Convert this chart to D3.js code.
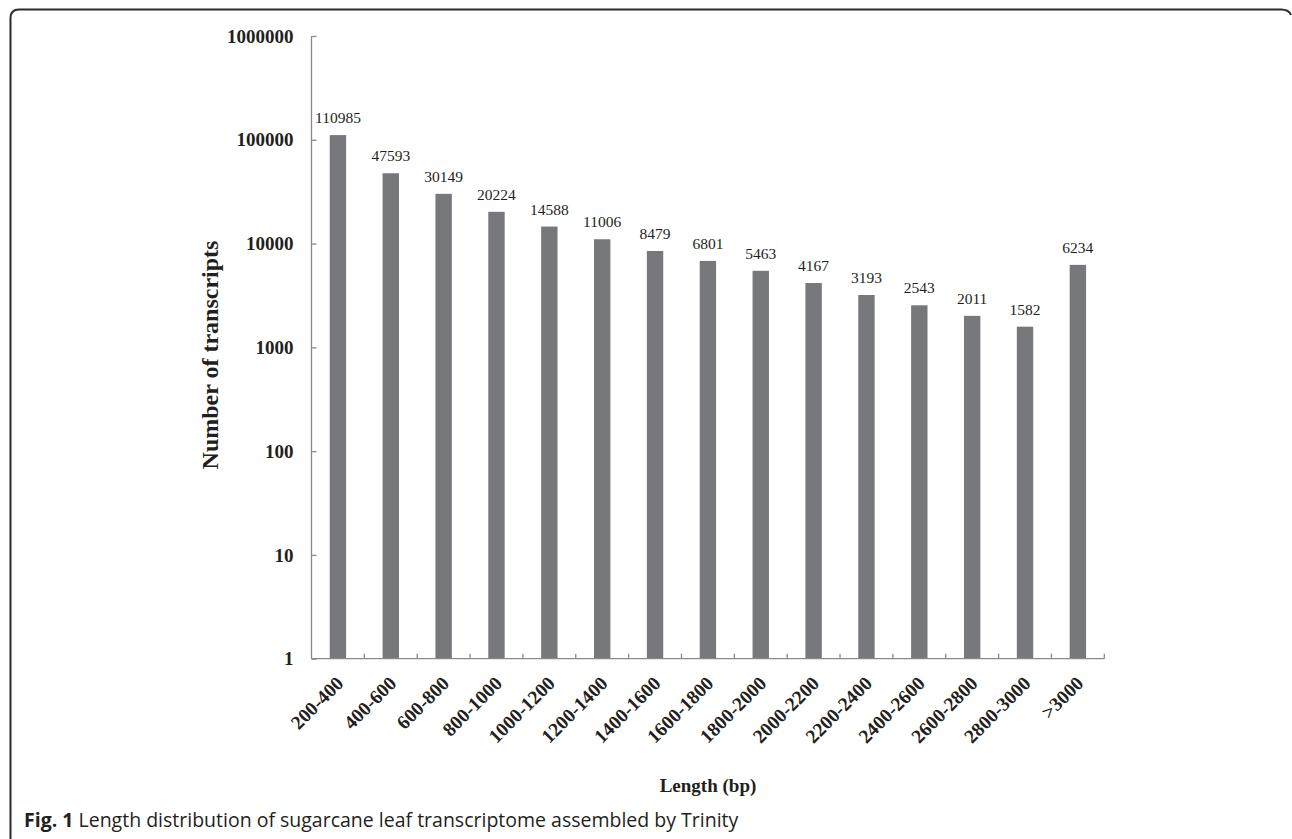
<!DOCTYPE html>
<html>
<head>
<meta charset="utf-8">
<script src="https://cdn.jsdelivr.net/npm/d3@7"></script>
<style>
  html, body { margin: 0; padding: 0; background: #fff; }
  svg { display: block; }
</style>
</head>
<body>
<svg id="chart" width="1292" height="839"></svg>
<script>
// Transcript length bins and counts
const categories = ["200-400", "400-600", "600-800", "800-1000", "1000-1200", "1200-1400",
  "1400-1600", "1600-1800", "1800-2000", "2000-2200", "2200-2400", "2400-2600",
  "2600-2800", "2800-3000", ">3000"];
const counts = [110985, 47593, 30149, 20224, 14588, 11006, 8479, 6801, 5463, 4167,
  3193, 2543, 2011, 1582, 6234];
const yTicks = [1, 10, 100, 1000, 10000, 100000, 1000000];

const svg = d3.select("#chart");
const serif = "'Liberation Serif', 'Times New Roman', serif";
const ink = "#231f20";
const axisGrey = "#8a8a8a";

const plot = { left: 311.5, right: 1104.3, top: 36, bottom: 658.7 };

const x = d3.scaleBand()
  .domain(categories)
  .range([plot.left, plot.right])
  .paddingInner(0.69)
  .paddingOuter(0.345);

const y = d3.scaleLog()
  .domain([1, 1000000])
  .range([plot.bottom, plot.top]);

// Figure frame (left and top edges with rounded corners)
svg.append("path")
  .attr("d", "M10.5,839 L10.5,18 Q10.5,9.5 19,9.5 L1281,9.5 Q1289,9.5 1291,15")
  .attr("fill", "none")
  .attr("stroke", "#2b2b2b")
  .attr("stroke-width", 2);

// Bars
svg.append("g").selectAll("rect")
  .data(categories)
  .join("rect")
  .attr("x", d => x(d))
  .attr("width", x.bandwidth())
  .attr("y", (d, i) => y(counts[i]))
  .attr("height", (d, i) => plot.bottom - y(counts[i]))
  .attr("fill", "#77787b");

// Value labels above bars
svg.append("g").selectAll("text")
  .data(categories)
  .join("text")
  .attr("x", d => x(d) + x.bandwidth() / 2)
  .attr("y", (d, i) => y(counts[i]) - 12)
  .attr("text-anchor", "middle")
  .attr("font-family", serif)
  .attr("font-size", "15.5px")
  .attr("fill", ink)
  .text((d, i) => counts[i]);

// Y axis
const yAxis = svg.append("g")
  .attr("transform", `translate(${plot.left},0)`)
  .call(d3.axisLeft(y).tickValues(yTicks).tickFormat(d3.format("d"))
    .tickSize(-5).tickPadding(18));
yAxis.select(".domain").attr("stroke", axisGrey).attr("stroke-width", 1.3)
  .attr("d", `M0,${plot.top}V${plot.bottom}`);
yAxis.selectAll(".tick line").attr("stroke", axisGrey).attr("stroke-width", 1.3);
yAxis.selectAll(".tick text")
  .attr("font-family", serif)
  .attr("font-size", "19px")
  .attr("font-weight", "bold")
  .attr("fill", ink);

// X axis baseline and category separators
const xAxis = svg.append("g");
xAxis.append("line")
  .attr("x1", plot.left).attr("x2", plot.right)
  .attr("y1", plot.bottom).attr("y2", plot.bottom)
  .attr("stroke", axisGrey).attr("stroke-width", 1.3);
const step = x.step();
const slotStart = d => x(d) - (step - x.bandwidth()) / 2;
xAxis.selectAll("line.sep")
  .data(categories)
  .join("line")
  .attr("class", "sep")
  .attr("x1", d => slotStart(d) + step)
  .attr("x2", d => slotStart(d) + step)
  .attr("y1", plot.bottom)
  .attr("y2", plot.bottom - 5)
  .attr("stroke", axisGrey).attr("stroke-width", 1.3);

// Rotated category labels
xAxis.selectAll("text")
  .data(categories)
  .join("text")
  .attr("transform", d => `translate(${x(d) + x.bandwidth() / 2 + 2},${plot.bottom + 21}) rotate(-45)`)
  .attr("text-anchor", "end")
  .attr("dy", "0.35em")
  .attr("font-family", serif)
  .attr("font-size", "19.5px")
  .attr("font-weight", "bold")
  .attr("fill", ink)
  .text(d => d);

// Axis titles
svg.append("text")
  .attr("x", 708)
  .attr("y", 792)
  .attr("text-anchor", "middle")
  .attr("font-family", serif)
  .attr("font-size", "19px")
  .attr("font-weight", "bold")
  .attr("fill", ink)
  .text("Length (bp)");

svg.append("text")
  .attr("transform", "translate(218,355) rotate(-90)")
  .attr("text-anchor", "middle")
  .attr("font-family", serif)
  .attr("font-size", "24px")
  .attr("font-weight", "bold")
  .attr("fill", ink)
  .text("Number of transcripts");

// Figure caption
const caption = svg.append("text")
  .attr("x", 24)
  .attr("y", 827)
  .attr("font-family", "'Open Sans', 'Noto Sans', sans-serif")
  .attr("font-size", "19.5px")
  .attr("fill", ink);
caption.append("tspan").attr("font-weight", "bold").text("Fig. 1");
caption.append("tspan").text(" Length distribution of sugarcane leaf transcriptome assembled by Trinity");
</script>
</body>
</html>
